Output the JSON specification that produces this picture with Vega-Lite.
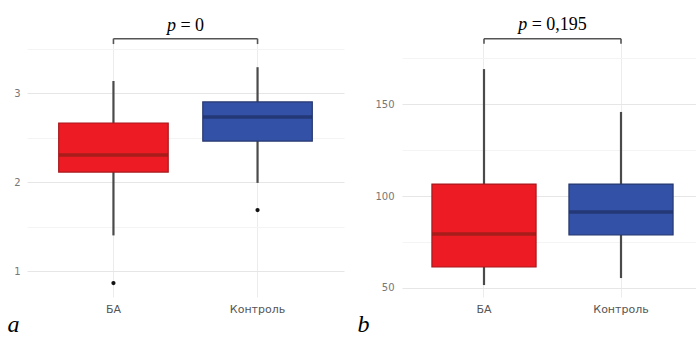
{
  "$schema": "https://vega.github.io/schema/vega-lite/v6.json",
  "background": "white",
  "padding": {"left": 7, "top": 16, "right": 0, "bottom": 0},
  "spacing": 13,
  "align": "none",
  "datasets": {
    "boxA": [
      {"group": "БА", "lower": 1.40, "q1": 2.112, "median": 2.303, "q3": 2.663, "upper": 3.135},
      {"group": "Контроль", "lower": 1.99, "q1": 2.46, "median": 2.73, "q3": 2.90, "upper": 3.29}
    ],
    "outA": [
      {"group": "БА", "value": 0.865},
      {"group": "Контроль", "value": 1.685}
    ],
    "brA": [{"from": "БА", "to": "Контроль", "y": 3.61, "p": "p", "rest": "= 0", "ty": 3.702}],
    "tipA": [{"group": "БА", "y": 3.61, "y2": 3.55}, {"group": "Контроль", "y": 3.61, "y2": 3.55}],
    "boxB": [
      {"group": "БА", "lower": 51.6, "q1": 61.4, "median": 79.3, "q3": 106.5, "upper": 169},
      {"group": "Контроль", "lower": 55.4, "q1": 78.8, "median": 91.3, "q3": 106.5, "upper": 145.7}
    ],
    "brB": [{"from": "БА", "to": "Контроль", "y": 185.5, "p": "p", "rest": "= 0,195", "ty": 190.2}],
    "tipB": [{"group": "БА", "y": 185.5, "y2": 182.8}, {"group": "Контроль", "y": 185.5, "y2": 182.8}]
  },
  "hconcat": [
    {
      "width": 317,
      "height": 259,
      "encoding": {
        "x": {
          "field": "group", "type": "nominal", "sort": ["БА", "Контроль"],
          "scale": {"domain": ["БА", "Контроль"], "paddingInner": 0, "paddingOuter": 0.1},
          "axis": {
            "title": "a", "titleFont": "Liberation Serif", "titleFontStyle": "italic", "titleFontWeight": "normal",
            "titleFontSize": 24, "titleColor": "#000", "titleX": -20, "titleY": 34, "titleAlign": "left", "titleBaseline": "alphabetic",
            "labelAngle": 0, "labelFont": "DejaVu Sans", "labelFontSize": 11, "labelColor": "#555", "labelPadding": 6,
            "domain": false, "ticks": false, "grid": true, "gridColor": "#ececec", "bandPosition": 0.5
          }
        }
      },
      "layer": [
        {
          "data": {"name": "boxA"},
          "mark": {"type": "rule", "color": "#4a4a4a", "strokeWidth": 2.2},
          "encoding": {
            "y": {
              "field": "lower", "type": "quantitative",
              "scale": {"domain": [0.708, 3.618], "nice": false, "zero": false},
              "axis": {
                "title": null, "values": [1, 1.5, 2, 2.5, 3, 3.5],
                "labelExpr": "datum.value % 1 === 0 ? '' + datum.value : ''",
                "labelFont": "DejaVu Sans", "labelFontSize": 10, "labelColor": "#777", "labelPadding": 7,
                "domain": false, "ticks": false, "grid": true,
                "gridColor": {"condition": {"test": "datum.value % 1 !== 0", "value": "#f4f4f4"}, "value": "#e6e6e6"}
              }
            },
            "y2": {"field": "upper"}
          }
        },
        {
          "data": {"name": "boxA"},
          "mark": {"type": "bar", "width": {"band": 0.76}, "strokeWidth": 1.2},
          "encoding": {
            "y": {"field": "q1", "type": "quantitative"},
            "y2": {"field": "q3"},
            "fill": {"field": "group", "type": "nominal", "scale": {"domain": ["БА", "Контроль"], "range": ["#ed1c24", "#3451a8"]}, "legend": null},
            "stroke": {"field": "group", "type": "nominal", "scale": {"domain": ["БА", "Контроль"], "range": ["#a8181c", "#26386f"]}, "legend": null}
          }
        },
        {
          "data": {"name": "boxA"},
          "mark": {"type": "tick", "size": 109, "thickness": 3.5, "orient": "horizontal"},
          "encoding": {
            "y": {"field": "median", "type": "quantitative"},
            "color": {"field": "group", "type": "nominal", "scale": {"domain": ["БА", "Контроль"], "range": ["#8a1c17", "#1e2d63"]}, "legend": null}
          }
        },
        {
          "data": {"name": "outA"},
          "mark": {"type": "point", "filled": true, "color": "#111", "size": 18, "opacity": 1},
          "encoding": {"y": {"field": "value", "type": "quantitative"}}
        },
        {
          "data": {"name": "brA"},
          "mark": {"type": "rule", "color": "#555", "strokeWidth": 1.6},
          "encoding": {
            "x": {"field": "from", "type": "nominal", "bandPosition": 0.5},
            "x2": {"field": "to", "bandPosition": 0.5},
            "y": {"field": "y", "type": "quantitative"}
          }
        },
        {
          "data": {"name": "tipA"},
          "mark": {"type": "rule", "color": "#555", "strokeWidth": 1.6},
          "encoding": {
            "y": {"field": "y", "type": "quantitative"},
            "y2": {"field": "y2"}
          }
        },
        {
          "data": {"name": "brA"},
          "mark": {"type": "text", "font": "Liberation Serif", "fontSize": 18, "fontStyle": "italic", "align": "left", "baseline": "alphabetic", "dx": -18.6, "color": "#000"},
          "encoding": {
            "x": {"field": "from", "type": "nominal", "bandPosition": 1},
            "y": {"field": "ty", "type": "quantitative"},
            "text": {"field": "p"}
          }
        },
        {
          "data": {"name": "brA"},
          "mark": {"type": "text", "font": "Liberation Serif", "fontSize": 18, "align": "left", "baseline": "alphabetic", "dx": -5.1, "color": "#000"},
          "encoding": {
            "x": {"field": "from", "type": "nominal", "bandPosition": 1},
            "y": {"field": "ty", "type": "quantitative"},
            "text": {"field": "rest"}
          }
        }
      ]
    },
    {
      "width": 295,
      "height": 259,
      "encoding": {
        "x": {
          "field": "group", "type": "nominal", "sort": ["БА", "Контроль"],
          "scale": {"domain": ["БА", "Контроль"], "paddingInner": 0, "paddingOuter": 0.0766, "align": 0.643},
          "axis": {
            "title": "b", "titleFont": "Liberation Serif", "titleFontStyle": "italic", "titleFontWeight": "normal",
            "titleFontSize": 24, "titleColor": "#000", "titleX": -45, "titleY": 34, "titleAlign": "left", "titleBaseline": "alphabetic",
            "labelAngle": 0, "labelFont": "DejaVu Sans", "labelFontSize": 11, "labelColor": "#555", "labelPadding": 6,
            "domain": false, "ticks": false, "grid": true, "gridColor": "#ececec", "bandPosition": 0.5
          }
        }
      },
      "layer": [
        {
          "data": {"name": "boxB"},
          "mark": {"type": "rule", "color": "#4a4a4a", "strokeWidth": 2.2},
          "encoding": {
            "y": {
              "field": "lower", "type": "quantitative",
              "scale": {"domain": [45.1, 185.9], "nice": false, "zero": false},
              "axis": {
                "title": null, "values": [50, 75, 100, 125, 150, 175],
                "labelExpr": "datum.value % 50 === 0 ? '' + datum.value : ''",
                "labelFont": "DejaVu Sans", "labelFontSize": 10, "labelColor": "#777", "labelPadding": 8,
                "domain": false, "ticks": false, "grid": true,
                "gridColor": {"condition": {"test": "datum.value % 50 !== 0", "value": "#f4f4f4"}, "value": "#e6e6e6"}
              }
            },
            "y2": {"field": "upper"}
          }
        },
        {
          "data": {"name": "boxB"},
          "mark": {"type": "bar", "width": {"band": 0.76}, "strokeWidth": 1.2},
          "encoding": {
            "y": {"field": "q1", "type": "quantitative"},
            "y2": {"field": "q3"},
            "fill": {"field": "group", "type": "nominal", "scale": {"domain": ["БА", "Контроль"], "range": ["#ed1c24", "#3451a8"]}, "legend": null},
            "stroke": {"field": "group", "type": "nominal", "scale": {"domain": ["БА", "Контроль"], "range": ["#a8181c", "#26386f"]}, "legend": null}
          }
        },
        {
          "data": {"name": "boxB"},
          "mark": {"type": "tick", "size": 104, "thickness": 3.5, "orient": "horizontal"},
          "encoding": {
            "y": {"field": "median", "type": "quantitative"},
            "color": {"field": "group", "type": "nominal", "scale": {"domain": ["БА", "Контроль"], "range": ["#8a1c17", "#1e2d63"]}, "legend": null}
          }
        },
        {
          "data": {"name": "brB"},
          "mark": {"type": "rule", "color": "#555", "strokeWidth": 1.6},
          "encoding": {
            "x": {"field": "from", "type": "nominal", "bandPosition": 0.5},
            "x2": {"field": "to", "bandPosition": 0.5},
            "y": {"field": "y", "type": "quantitative"}
          }
        },
        {
          "data": {"name": "tipB"},
          "mark": {"type": "rule", "color": "#555", "strokeWidth": 1.6},
          "encoding": {
            "y": {"field": "y", "type": "quantitative"},
            "y2": {"field": "y2"}
          }
        },
        {
          "data": {"name": "brB"},
          "mark": {"type": "text", "font": "Liberation Serif", "fontSize": 18, "fontStyle": "italic", "align": "left", "baseline": "alphabetic", "dx": -34.3, "color": "#000"},
          "encoding": {
            "x": {"field": "from", "type": "nominal", "bandPosition": 1},
            "y": {"field": "ty", "type": "quantitative"},
            "text": {"field": "p"}
          }
        },
        {
          "data": {"name": "brB"},
          "mark": {"type": "text", "font": "Liberation Serif", "fontSize": 18, "align": "left", "baseline": "alphabetic", "dx": -20.8, "color": "#000"},
          "encoding": {
            "x": {"field": "from", "type": "nominal", "bandPosition": 1},
            "y": {"field": "ty", "type": "quantitative"},
            "text": {"field": "rest"}
          }
        }
      ]
    }
  ],
  "resolve": {"scale": {"fill": "independent", "stroke": "independent", "color": "independent"}},
  "config": {"view": {"stroke": null}}
}
